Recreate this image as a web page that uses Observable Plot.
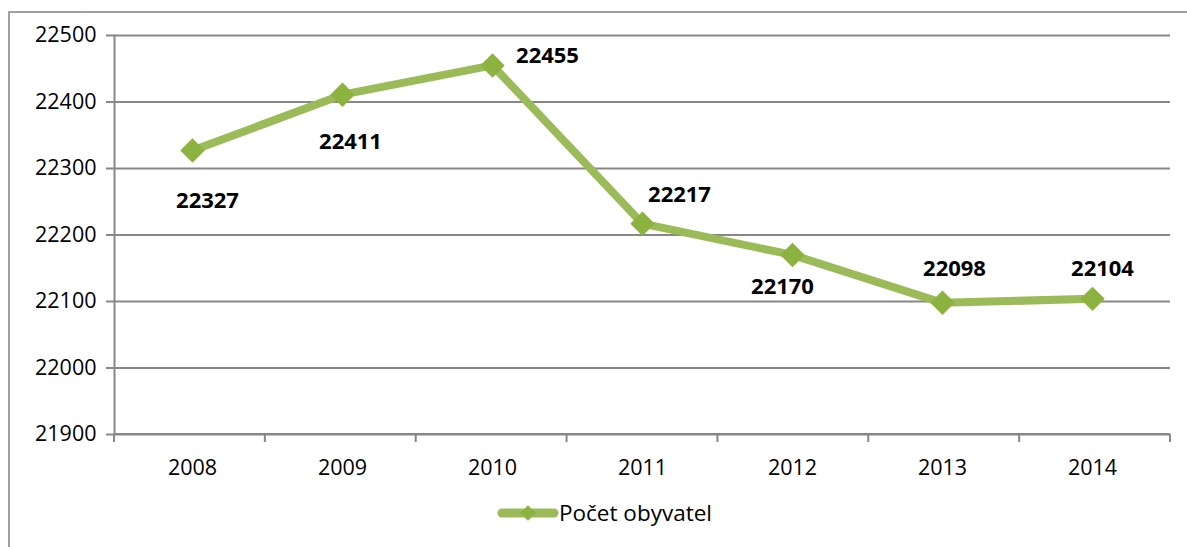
<!DOCTYPE html>
<html>
<head>
<meta charset="utf-8">
<script src="https://cdn.jsdelivr.net/npm/d3@7"></script>
<script src="https://cdn.jsdelivr.net/npm/@observablehq/plot@0.6"></script>
<style>
  html, body { margin: 0; padding: 0; background: #fff; width: 1187px; height: 547px; overflow: hidden; position: relative; font-family: "Open Sans", "Noto Sans", sans-serif; }
  #frame { position: absolute; left: 8px; top: 11px; width: 1200px; height: 560px; border: 2px solid #a0a0a0; box-sizing: border-box; }
  #chart { position: absolute; left: 0; top: 0; }
  #legend { position: absolute; left: 497px; top: 497px; display: flex; align-items: center; font-size: 22.5px; color: #000; }
  #legend svg { display: block; margin-right: 0px; }
</style>
</head>
<body>
<div id="frame"></div>
<div id="chart"></div>
<div id="legend"></div>
<script>
// ---- data ----
const years = ["2008", "2009", "2010", "2011", "2012", "2013", "2014"];
const population = [22327, 22411, 22455, 22217, 22170, 22098, 22104];
const yTicks = [21900, 22000, 22100, 22200, 22300, 22400, 22500];
const seriesName = "Počet obyvatel";

// ---- label layout (pixel offsets of the data labels) ----
const labelDx = [15, 8, 55, 37, -10, 12, 10];
const labelDy = [50, 47, -9, -29, 32, -34, -30];

const data = years.map((year, i) => ({ year, value: population[i], i }));

const lineColor = "#9BBB59";
const markerColor = "#8CB23F";
const gridColor = "#878787";

const chart = Plot.plot({
  width: 1187,
  height: 480,
  marginLeft: 114,
  marginRight: 17,
  marginTop: 35,
  marginBottom: 46,
  style: { fontFamily: "'Open Sans', 'Noto Sans', sans-serif", background: "transparent", overflow: "visible", color: "#000" },
  x: { type: "point", domain: years, padding: 0.5, label: null },
  y: { domain: [21900, 22500], label: null },
  marks: [
    Plot.gridY(yTicks, { stroke: gridColor, strokeWidth: 2, strokeOpacity: 1 }),
    Plot.frame({ anchor: "left", stroke: gridColor, strokeWidth: 2 }),
    Plot.axisY(yTicks, { tickSize: 8, tickPadding: 10, fontSize: 21.5, stroke: gridColor, strokeWidth: 2, fill: "#000", label: null, tickFormat: d => String(d) }),
    Plot.axisX({ tickSize: 0, tickPadding: 25, fontSize: 21.5, fill: "#000", label: null }),
    Plot.line(data, { x: "year", y: "value", stroke: lineColor, strokeWidth: 8, strokeLinejoin: "round", style: "filter: drop-shadow(1px 2px 1.5px rgba(0,0,0,0.25))" }),
    Plot.dot(data, { x: "year", y: "value", symbol: "diamond2", r: 11, fill: markerColor, stroke: "none" }),
    ...data.map((d, i) => Plot.text([d], { x: "year", y: "value", text: d => String(d.value), dx: labelDx[i], dy: labelDy[i], fontSize: 22, fontWeight: "bold", fill: "#000" }))
  ]
});

document.getElementById("chart").appendChild(chart);

// category boundary ticks on the x axis, derived from the x scale
const xs = chart.scale("x");
const xScale = d3.scalePoint().domain(xs.domain).range(xs.range).padding(xs.padding);
const step = xScale.step();
const yScaleInfo = chart.scale("y");
const yScale = d3.scaleLinear().domain(yScaleInfo.domain).range(yScaleInfo.range);
const y0 = yScale(21900);
const boundaries = years.map(y => xScale(y) - step / 2).concat([xScale(years[years.length - 1]) + step / 2]);
d3.select(chart).append("g")
  .attr("stroke", gridColor)
  .attr("stroke-width", 2)
  .selectAll("line")
  .data(boundaries)
  .join("line")
  .attr("x1", d => d).attr("x2", d => d)
  .attr("y1", y0).attr("y2", y0 + 8);
// bottom axis line
d3.select(chart).append("line")
  .attr("x1", boundaries[0]).attr("x2", boundaries[boundaries.length - 1])
  .attr("y1", y0).attr("y2", y0)
  .attr("stroke", gridColor).attr("stroke-width", 2);

// legend
const legend = d3.select("#legend");
const sw = legend.append("svg").attr("width", 62).attr("height", 24);
sw.append("line").attr("x1", 5).attr("x2", 57).attr("y1", 12).attr("y2", 12)
  .attr("stroke", lineColor).attr("stroke-width", 9).attr("stroke-linecap", "round");
sw.append("path").attr("transform", "translate(31,12)")
  .attr("d", d3.symbol(d3.symbolDiamond2, 150)())
  .attr("fill", markerColor);
legend.append("span").text(seriesName);
</script>
</body>
</html>
